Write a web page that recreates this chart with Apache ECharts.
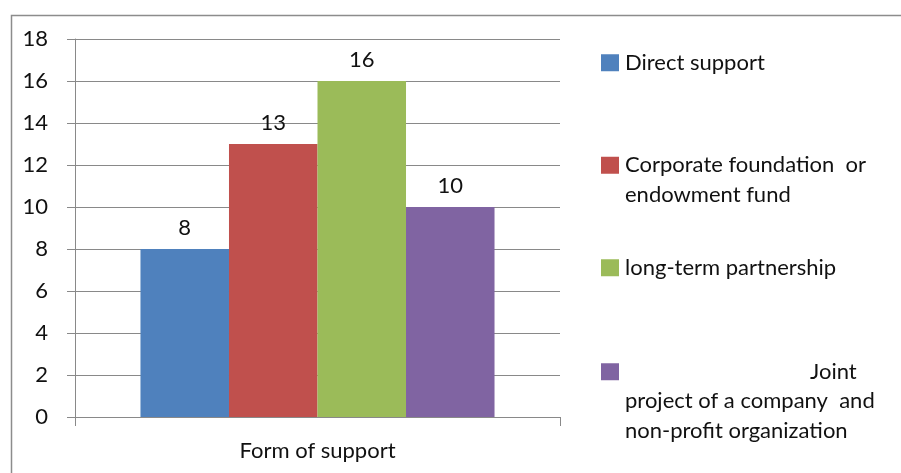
<!DOCTYPE html>
<html>
<head>
<meta charset="utf-8">
<style>
  html, body { margin: 0; padding: 0; background: #fff; }
  #chart { width: 901px; height: 473px; }
</style>
<script src="https://cdn.jsdelivr.net/npm/echarts@6/dist/echarts.min.js"></script>
</head>
<body>
<div id="chart"></div>
<script>
// Forms of corporate support, counts per form
var categories = ['Form of support'];
var seriesNames = [
  'Direct support',
  'Corporate foundation or endowment fund',
  'long-term partnership',
  'Joint project of a company and non-profit organization'
];
var seriesValues = [8, 13, 16, 10];
var yTicks = [0, 2, 4, 6, 8, 10, 12, 14, 16, 18];

var colors = ['#4F81BD', '#C0504D', '#9BBB59', '#8064A2'];
var FONT = 'Lato';
var FS = 22;
var gray = '#898989';

// Legend text, wrapped as in the chart's legend box
var legendText = {};
legendText[seriesNames[0]] = 'Direct support';
legendText[seriesNames[1]] = 'Corporate foundation  or\nendowment fund';
legendText[seriesNames[2]] = 'long-term partnership';
legendText[seriesNames[3]] = '{j|Joint}{s|}\nproject of a company  and\nnon-profit organization';

var lineH = 29.5;
var legendTops = [48, 121, 253, 298];
var legendLines = [1, 2, 1, 3];

var legends = seriesNames.map(function (name, i) {
  return {
    data: [name],
    orient: 'vertical',
    left: 601,
    top: legendTops[i],
    padding: 0,
    itemWidth: 18,
    itemHeight: 17,
    icon: 'rect',
    selectedMode: false,
    formatter: function (n) { return legendText[n]; },
    textStyle: {
      fontFamily: FONT,
      fontSize: FS,
      color: '#111',
      lineHeight: lineH,
      padding: [(legendLines[i] - 1) * lineH, 0, 0, 1],
      rich: {
        j: { fontFamily: FONT, fontSize: FS, color: '#111', lineHeight: lineH, align: 'right' },
        s: { fontFamily: FONT, fontSize: FS, lineHeight: lineH, width: 18, align: 'right' }
      }
    }
  };
});

var series = seriesNames.map(function (name, i) {
  return {
    name: name,
    type: 'bar',
    data: [seriesValues[i]],
    itemStyle: { color: colors[i] },
    barGap: '0%',
    barCategoryGap: '27%',
    label: {
      show: true,
      position: 'top',
      distance: 10,
      fontFamily: FONT,
      fontSize: FS,
      color: '#111'
    }
  };
});

var chart = echarts.init(document.getElementById('chart'), null, { renderer: 'canvas' });
chart.setOption({
  animation: false,
  backgroundColor: '#fff',
  grid: { left: 75, right: 341, top: 39, bottom: 56 },
  legend: legends,
  xAxis: {
    type: 'category',
    data: categories,
    axisLine: { lineStyle: { color: gray, width: 1 } },
    axisTick: { show: true, length: 9, lineStyle: { color: gray } },
    axisLabel: { margin: 23, fontFamily: FONT, fontSize: FS, color: '#111' },
    splitLine: { show: false }
  },
  yAxis: {
    type: 'value',
    min: yTicks[0],
    max: yTicks[yTicks.length - 1],
    interval: 2,
    axisLine: { show: true, lineStyle: { color: gray, width: 1 } },
    axisTick: { show: true, length: 8, lineStyle: { color: gray } },
    axisLabel: { margin: 27, fontFamily: FONT, fontSize: FS, color: '#111' },
    splitLine: { show: true, lineStyle: { color: gray, width: 1 } }
  },
  graphic: [{
    type: 'rect',
    left: 9,
    top: 13,
    shape: { width: 1000, height: 1000 },
    style: { fill: 'none', stroke: '#8c8c8c', lineWidth: 1.5 },
    silent: true
  }],
  series: series
});
</script>
</body>
</html>
